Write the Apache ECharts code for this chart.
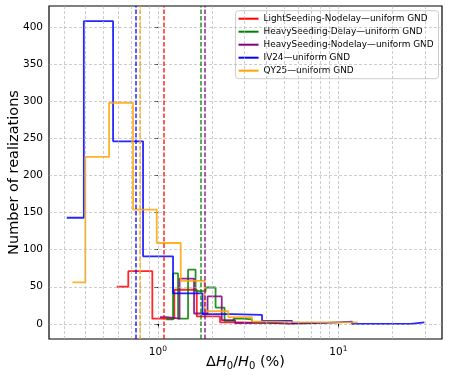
<!DOCTYPE html>
<html>
<head>
<meta charset="utf-8">
<script src="https://cdn.jsdelivr.net/npm/echarts@6/dist/echarts.min.js"></script>
<style>
  html, body { margin: 0; padding: 0; background: #fff; }
  #chart { width: 449px; height: 380px; }
</style>
</head>
<body>
<div id="chart"></div>
<script>
// histogram step edges (ΔH0/H0 in %) and counts per bin
const redEdges = [0.592, 0.686, 0.932, 1.234, 1.643, 2.211, 2.965, 3.976];
const redCounts = [50, 71, 7, 46, 10, 2, 1];
const greenEdges = [1.110, 1.214, 1.294, 1.470, 1.618, 1.838, 2.088, 2.342, 2.627, 2.965, 3.325, 3.729, 4.183, 5.265];
const greenCounts = [6, 68, 7, 73, 44, 49, 22, 4, 7, 6, 2, 1, 2];
const purpleEdges = [1.028, 1.120, 1.319, 1.587, 1.885, 2.259, 2.678, 3.18, 3.778, 4.488, 5.33, 7.52];
const purpleCounts = [9, 7, 61, 14, 37, 5, 1, 2, 1, 0, 1];
const blueEdges = [0.313, 0.389, 0.565, 0.828, 1.214, 1.768, 2.577, 3.778, 5.54, 8.12, 11.91, 25.18, 29.96];
const blueCounts = [143, 408, 246, 91, 41, 13, 12, 4, 1, 3, 0, 2];
const orangeEdges = [0.336, 0.3965, 0.537, 0.729, 0.986, 1.339, 1.814, 2.458, 3.325, 4.517, 6.135, 8.33, 12.81];
const orangeCounts = [56, 225, 298, 154, 109, 58, 17, 9, 3, 2, 2, 2];

// dashed vertical lines (medians, %)
const medians = [1.078, 1.742, 1.82, 0.754, 0.797];

const names = [
  'LightSeeding-Nodelay\u2014uniform GND',
  'HeavySeeding-Delay\u2014uniform GND',
  'HeavySeeding-Nodelay\u2014uniform GND',
  'IV24\u2014uniform GND',
  'QY25\u2014uniform GND'
];
const colors = ['#ff0000', '#008000', '#800080', '#0000ff', '#ffa500'];

// ticks and grid positions
const yTicks = [0, 50, 100, 150, 200, 250, 300, 350, 400];
const xMajor = [1, 10];
const xGrid = [0.3, 0.4, 0.5, 0.6, 0.7, 0.8, 0.9, 1, 2, 3, 4, 5, 6, 7, 8, 9, 10, 20, 30];
const xRange = [0.2495, 37.5];

const font = 'DejaVu Sans';
const lg = Math.log10;

// x axis is log10 of the percentage
function stepPoints(edges, counts) {
  const pts = counts.map((c, i) => [lg(edges[i]), c]);
  pts.push([lg(edges[edges.length - 1]), counts[counts.length - 1]]);
  return pts;
}

const hists = [
  [redEdges, redCounts],
  [greenEdges, greenCounts],
  [purpleEdges, purpleCounts],
  [blueEdges, blueCounts],
  [orangeEdges, orangeCounts]
];

const gridStyle = { color: '#b0b0b0', type: [3, 2], width: 0.8, opacity: 0.8 };

const series = [{
  name: '_grid',
  type: 'line',
  data: [],
  z: 1,
  silent: true,
  markLine: {
    silent: true,
    symbol: 'none',
    label: { show: false },
    lineStyle: gridStyle,
    animation: false,
    data: xGrid.map(v => ({ xAxis: lg(v) })).concat(yTicks.map(v => ({ yAxis: v })))
  }
}];

hists.forEach(([edges, counts], i) => {
  series.push({
    name: names[i],
    type: 'line',
    step: 'end',
    color: colors[i],
    showSymbol: false,
    symbol: 'none',
    z: 3,
    lineStyle: { width: 1.8, opacity: 0.85 },
    data: stepPoints(edges, counts),
    markLine: {
      silent: true,
      symbol: 'none',
      label: { show: false },
      animation: false,
      lineStyle: { color: colors[i], type: [4.5, 2], width: 1.5, opacity: 0.85 },
      data: [{ xAxis: lg(medians[i]) }]
    }
  });
});

const chart = echarts.init(document.getElementById('chart'));
chart.setOption({
  animation: false,
  textStyle: { fontFamily: font },
  grid: {
    left: 49, right: 7, top: 6, bottom: 41,
    containLabel: false,
    outerBoundsMode: 'none',
    show: true, borderColor: '#000', borderWidth: 1.2, backgroundColor: 'transparent'
  },
  legend: {
    data: names,
    orient: 'vertical',
    right: 10.5,
    top: 10.7,
    icon: 'rect',
    itemWidth: 20,
    itemHeight: 2,
    itemGap: 3,
    padding: [3, 5, 3, 3],
    backgroundColor: 'rgba(255,255,255,0.8)',
    borderColor: '#cccccc',
    borderWidth: 1,
    borderRadius: 3,
    textStyle: { fontFamily: font, fontSize: 8.9, lineHeight: 10, color: '#000' }
  },
  xAxis: {
    type: 'value',
    min: lg(xRange[0]),
    max: lg(xRange[1]),
    name: '{n|\u0394}{i|H}{s|0}{n|/}{i|H}{s|0}{n| (%)}',
    nameLocation: 'middle',
    nameGap: 15,
    nameMoveOverlap: false,
    nameTextStyle: {
      rich: {
        n: { fontFamily: font, fontSize: 14.5, color: '#000' },
        i: { fontFamily: font, fontSize: 14.5, fontStyle: 'italic', color: '#000' },
        s: { fontFamily: font, fontSize: 10, color: '#000', padding: [7, 0, 0, 0] }
      }
    },
    axisLine: { show: false },
    splitLine: { show: false },
    axisTick: { show: true, length: 3.5, customValues: xMajor.map(lg), lineStyle: { color: '#000' } },
    axisLabel: {
      customValues: xMajor.map(lg),
      margin: 6,
      formatter: v => '{b|10}{sup|' + Math.round(v) + '}',
      rich: {
        b: { fontFamily: font, fontSize: 10.5, color: '#000' },
        sup: { fontFamily: font, fontSize: 7.5, color: '#000', padding: [0, 0, 6, 0] }
      }
    }
  },
  yAxis: {
    type: 'value',
    min: -20.4,
    max: 428.4,
    name: 'Number of realizations',
    nameLocation: 'middle',
    nameGap: 27,
    nameMoveOverlap: false,
    nameTextStyle: { fontFamily: font, fontSize: 14.5, color: '#000' },
    axisLine: { show: false },
    splitLine: { show: false },
    axisTick: { show: true, length: 3.5, customValues: yTicks, lineStyle: { color: '#000' } },
    axisLabel: { customValues: yTicks, margin: 6, fontFamily: font, fontSize: 10.5, color: '#000' }
  },
  series: series
});
</script>
</body>
</html>
